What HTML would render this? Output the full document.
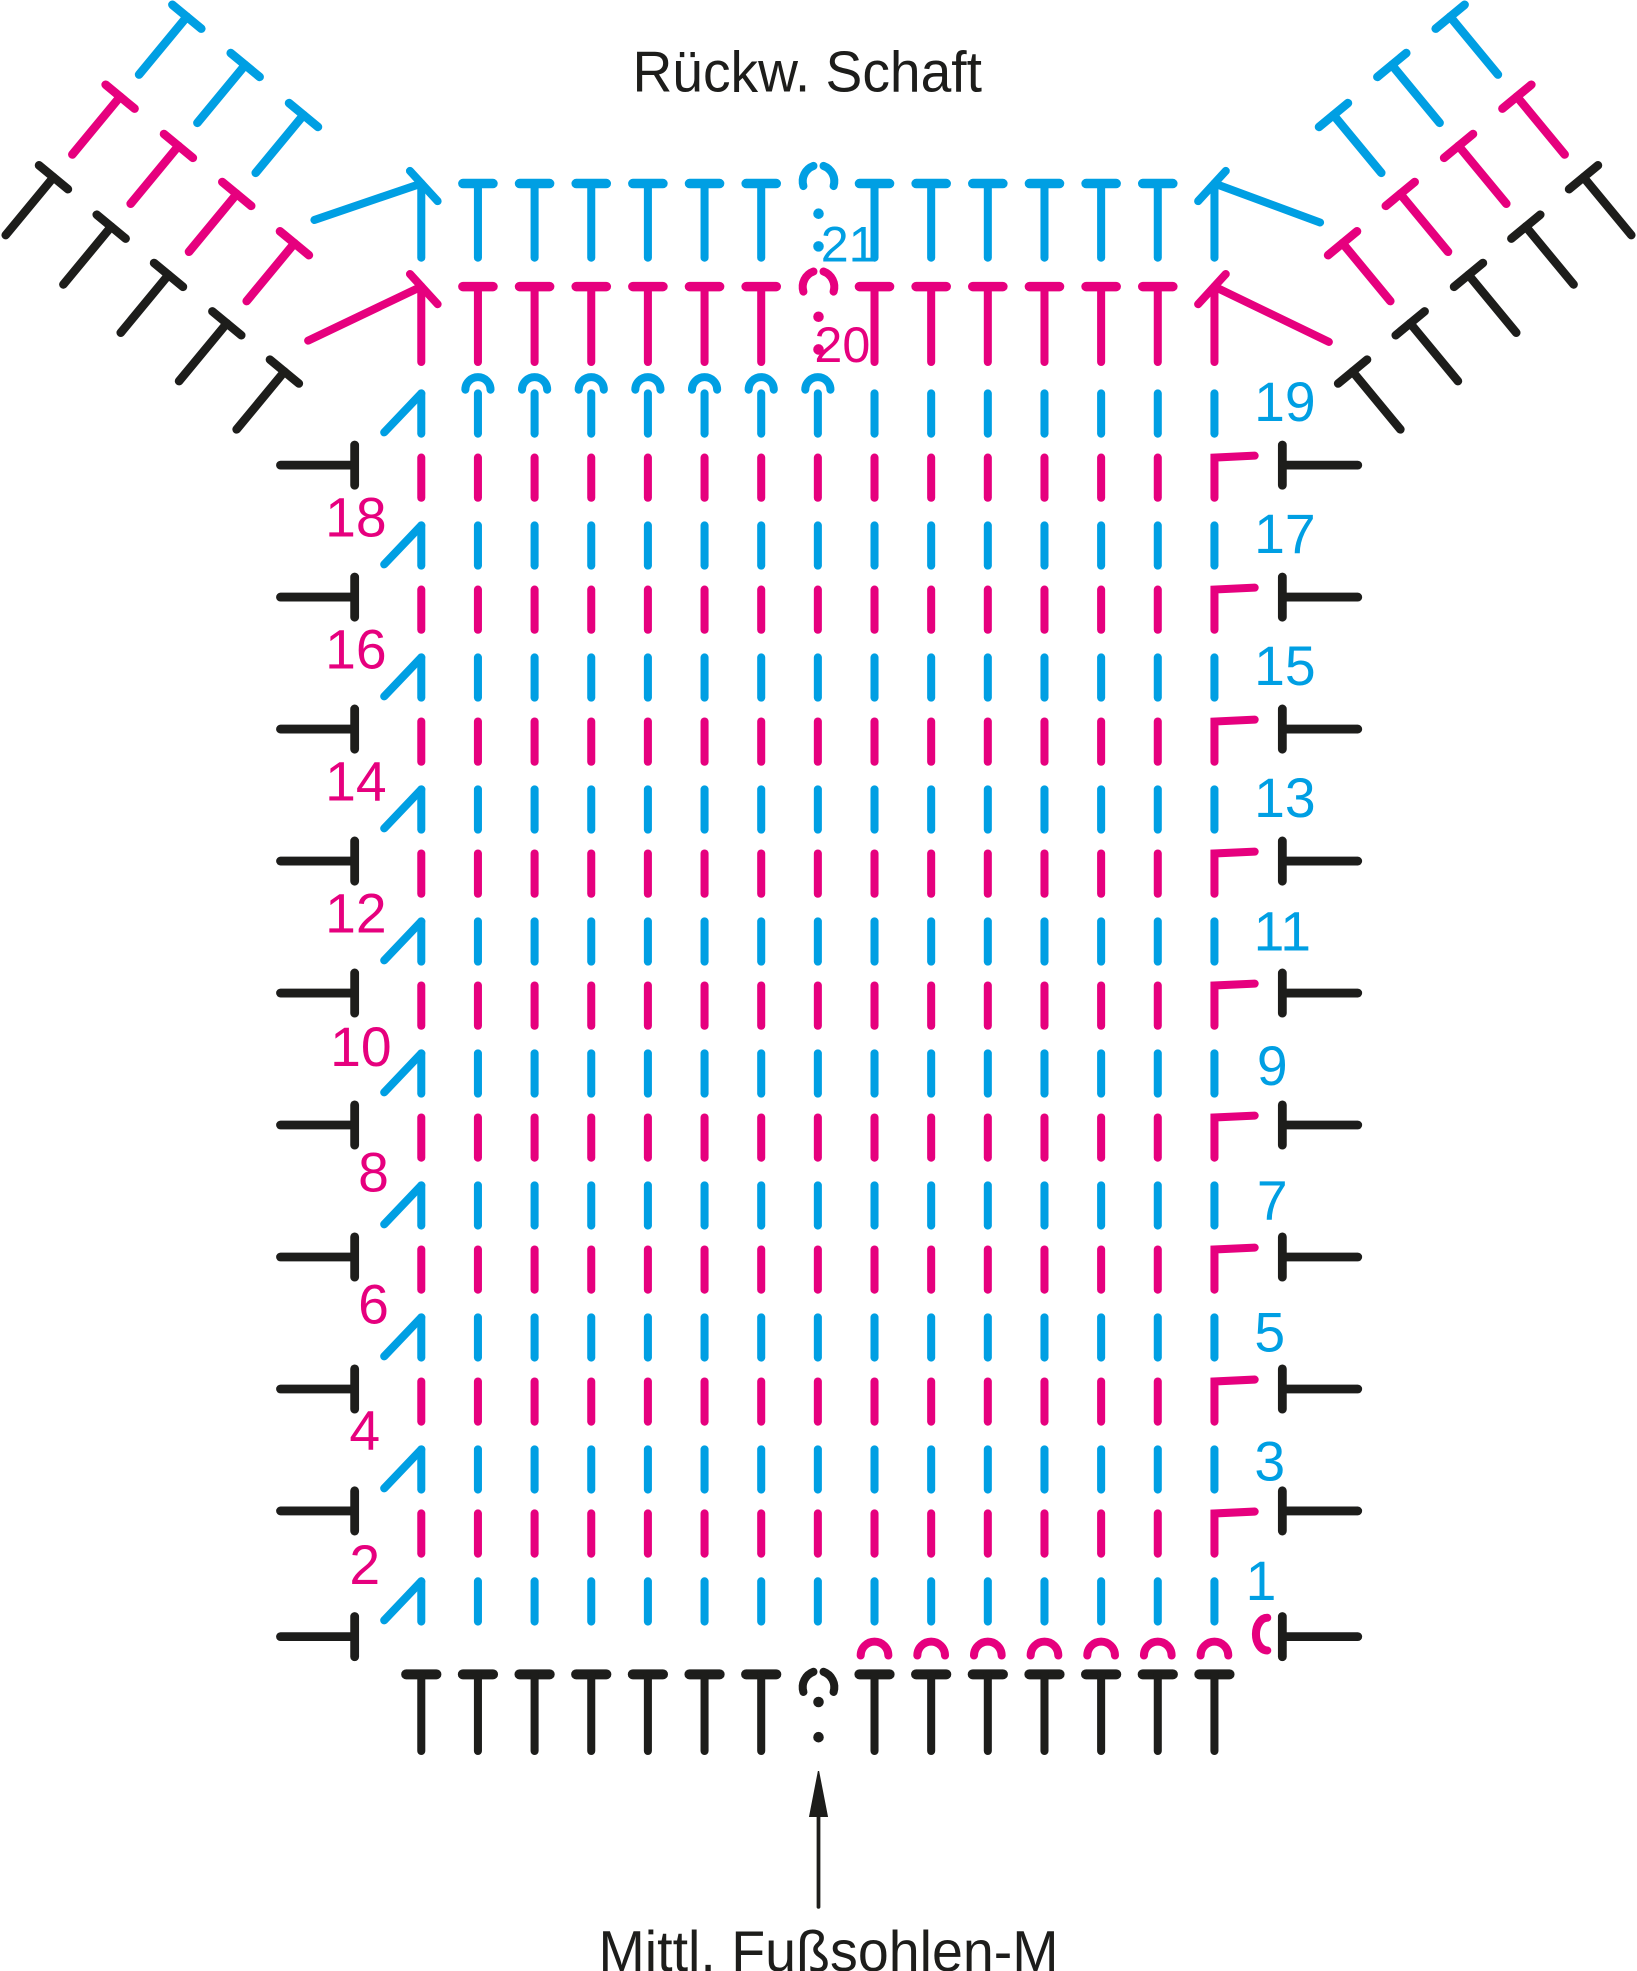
<!DOCTYPE html>
<html><head><meta charset="utf-8"><style>
html,body{margin:0;padding:0;background:#fff;}
svg{display:block;}
text{font-family:"Liberation Sans",Arial,sans-serif;}
</style></head><body>
<svg id="s" xmlns="http://www.w3.org/2000/svg" width="1637" height="1971" viewBox="0 0 1302 1568">
<rect width="1302" height="1568" fill="#fff"/>
<g id="g" fill="none" stroke-linecap="round" stroke-width="6.4"></g>
<text x="503" y="73" font-size="46" fill="#1d1d1b" textLength="278" lengthAdjust="spacingAndGlyphs">Rückw. Schaft</text>
<text x="476" y="1568" font-size="46" fill="#1d1d1b" textLength="366" lengthAdjust="spacingAndGlyphs">Mittl. Fußsohlen-M</text>
<g font-size="44" fill="#e6007e" text-anchor="middle">
<text x="283" y="427">18</text><text x="283" y="532">16</text><text x="283" y="637">14</text><text x="283" y="742">12</text><text x="287" y="848">10</text><text x="297" y="948">8</text><text x="297" y="1053">6</text><text x="290" y="1153">4</text><text x="290" y="1260">2</text>
</g>
<g font-size="44" fill="#009fe3" text-anchor="middle">
<text x="1022" y="335">19</text><text x="1022" y="440">17</text><text x="1022" y="545">15</text><text x="1022" y="650">13</text><text x="1020" y="756">11</text><text x="1012" y="863">9</text><text x="1012" y="970">7</text><text x="1010" y="1075">5</text><text x="1010" y="1178">3</text><text x="1003" y="1273">1</text>
</g>
<text x="675" y="208" font-size="40" fill="#009fe3" text-anchor="middle">21</text>
<text x="670" y="288" font-size="40" fill="#e6007e" text-anchor="middle">20</text>
</svg>
<script>
(function(){
var g=document.getElementById('g');var NS='http://www.w3.org/2000/svg';
var B='#009fe3',P='#e6007e',K='#1d1d1b';
function L(x1,y1,x2,y2,c,w){var e=document.createElementNS(NS,'line');e.setAttribute('x1',x1);e.setAttribute('y1',y1);e.setAttribute('x2',x2);e.setAttribute('y2',y2);e.setAttribute('stroke',c);if(w)e.setAttribute('stroke-width',w);g.appendChild(e);}
function Pth(d,c,w,f){var e=document.createElementNS(NS,'path');e.setAttribute('d',d);e.setAttribute('stroke',c);if(w)e.setAttribute('stroke-width',w);if(f){e.setAttribute('fill',f);}g.appendChild(e);}
function C(x,y,r,c){var e=document.createElementNS(NS,'circle');e.setAttribute('cx',x);e.setAttribute('cy',y);e.setAttribute('r',r);e.setAttribute('fill',c);g.appendChild(e);}
var cols=[];for(var i=0;i<15;i++)cols.push(335+i*45.07);
for(var k=1;k<=19;k+=2){var y0=1258-(k-1)/2*105;
 for(var i=1;i<15;i++)L(cols[i],y0,cols[i],y0+32,B);
 L(cols[0],y0,cols[0],y0+32,B);L(305.5,y0+31,cols[0],y0,B);}
for(var k=2;k<=18;k+=2){var y0=364+(18-k)/2*105;
 for(var i=0;i<14;i++)L(cols[i],y0,cols[i],y0+32,P);
 Pth('M966 '+(y0+32)+' L966 '+y0+' L998 '+(y0-1.5),P);}
var ms=[370,475,580,685,790,895,1000,1105,1202,1302];
ms.forEach(function(y){L(223,y,280,y,K,7);L(282,y-16,282,y+16,K,7);L(1020,y-16,1020,y+16,K,7);L(1022,y,1080,y,K,7);});
for(var i=1;i<=7;i++){var x=cols[i];Pth('M'+(x-10)+' 310 A10 10 0 0 1 '+(x+10)+' 310',B);}
for(var i=8;i<15;i++){var x=cols[i];Pth('M'+(x-11)+' 1317 A11 11 0 0 1 '+(x+11)+' 1317',P);}
Pth('M1008 1287 A9 13 0 0 0 1008 1313',P);
function trow(yt,yb,c,w){for(var i=0;i<15;i++){if(i==7)continue;var x=cols[i];
 if((i==0||i==14)&&c!==K)continue;
 L(x-12,yt,x+12,yt,c,w);L(x,yt,x,yb,c);}}
trow(146,205,B,7.5);trow(228,288,P,7.5);trow(1332,1393,K,8);
function mid(yc,c,d1,d2){Pth('M639 '+(yc+6)+' A13 13 0 0 1 647 '+(yc-10),c);Pth('M655 '+(yc-10)+' A13 13 0 0 1 663 '+(yc+6),c);C(651,d1,4.2,c);C(651,d2,4.2,c);}
mid(142,B,170,196);mid(226,P,252,278);mid(1340,K,1354,1382);
function arr(yt,yb,c,lx,ly,rx,ry){
 L(cols[0],yt,cols[0],yb,c);L(lx,ly,cols[0],yt,c);L(326,yt-10,348,yt+14,c);
 L(966,yt,966,yb,c);L(rx,ry,966,yt,c);L(975,yt-10,953,yt+14,c);}
arr(146,205,B,250,175,1050,177);
arr(228,288,P,245,271,1057,272);
L(651,1517,651,1440,K,3);Pth('M651 1409 L644 1445 L658 1445 Z',K,1,K);
function dT(jx,jy,c,side){var sx=side<0?-38:38,sy=46,cx=side<0?11.5:-11.5,cy=9.5;
 L(jx-cx,jy-cy,jx+cx,jy+cy,c,6.8);L(jx,jy,jx+sx,jy+sy,c,6.8);}
var blk=[[42.4,141],[88.3,180.3],[133.9,218.7],[180.3,257.2],[226.1,295.6]];
var pnk=[[95.4,76.9],[141.8,116.1],[188.2,154.3],[234.1,193.5]];
var blu=[[148.5,13.3],[194.9,51.7],[241.3,91.5]];
[[blk,K],[pnk,P],[blu,B]].forEach(function(a){a[0].forEach(function(p){dT(p[0],p[1],a[1],-1);dT(1302-p[0],p[1],a[1],1);});});
})();
</script>
</body></html>
